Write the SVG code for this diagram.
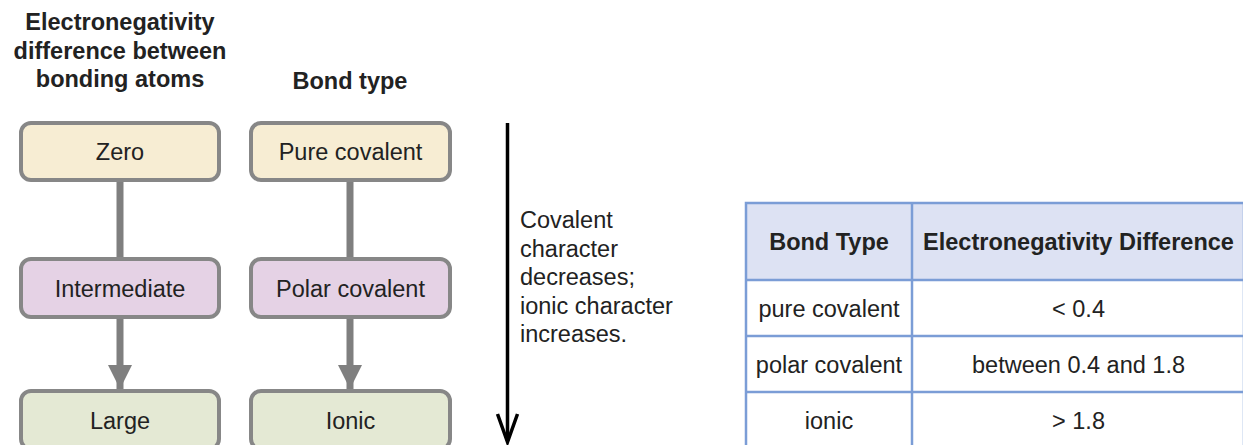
<svg xmlns="http://www.w3.org/2000/svg" width="1243" height="445" viewBox="0 0 1243 445">
<style>
text{font-family:"Liberation Sans",Arial,sans-serif;fill:#222}
.t{font-size:23.5px;font-weight:bold;text-anchor:middle}
.n{font-size:23.5px;text-anchor:middle}
.box{stroke:#878787;stroke-width:4}
.y{fill:#f7edd3}.p{fill:#e5d2e5}.g{fill:#e4e9d4}
.c{stroke:#7f7f7f;stroke-width:7;fill:none}
.tb{stroke:#7b9dd6;stroke-width:2.5;fill:none}
</style>
<defs>
<marker id="ah" markerUnits="userSpaceOnUse" markerWidth="26" markerHeight="24" refX="24" refY="12" orient="auto">
<path d="M0,0 L24,12 L0,24 Z" fill="#7f7f7f"/>
</marker>
</defs>
<g id="titles">
<text class="t" x="120" y="30">Electronegativity</text>
<text class="t" x="120" y="58.5">difference between</text>
<text class="t" x="120" y="87">bonding atoms</text>
<text class="t" x="350" y="89">Bond type</text>
</g>
<g id="connectors">
<line class="c" x1="120" y1="181" x2="120" y2="258"/>
<line class="c" x1="350" y1="181" x2="350" y2="258"/>
<line class="c" x1="120" y1="318" x2="120" y2="389" marker-end="url(#ah)"/>
<line class="c" x1="350" y1="318" x2="350" y2="389" marker-end="url(#ah)"/>
</g>
<g id="zero"><rect class="box y" x="21" y="123" width="198" height="57" rx="10"/><text class="n" x="120" y="160">Zero</text></g>
<g id="pure-covalent"><rect class="box y" x="251" y="123" width="199" height="57" rx="10"/><text class="n" x="350.5" y="160">Pure covalent</text></g>
<g id="intermediate"><rect class="box p" x="21" y="259" width="198" height="58" rx="10"/><text class="n" x="120" y="297">Intermediate</text></g>
<g id="polar-covalent"><rect class="box p" x="251" y="259" width="199" height="58" rx="10"/><text class="n" x="350.5" y="297">Polar covalent</text></g>
<g id="large"><rect class="box g" x="21" y="391" width="198" height="58" rx="10"/><text class="n" x="120" y="429">Large</text></g>
<g id="ionic"><rect class="box g" x="251" y="391" width="199" height="58" rx="10"/><text class="n" x="350.5" y="429">Ionic</text></g>
<g id="trend">
<line x1="507.5" y1="123" x2="507.5" y2="441" stroke="#000" stroke-width="3.5"/>
<path d="M497.5,414 L507.5,442 L517.5,414" fill="none" stroke="#000" stroke-width="3.5"/>
<text x="520" y="228" font-size="23.5">Covalent</text>
<text x="520" y="256.5" font-size="23.5">character</text>
<text x="520" y="285" font-size="23.5">decreases;</text>
<text x="520" y="313.5" font-size="23.5">ionic character</text>
<text x="520" y="342" font-size="23.5">increases.</text>
</g>
<g id="table">
<rect x="746" y="203" width="498" height="77" fill="#dde2f3"/>
<rect class="tb" x="746" y="203" width="498" height="250"/>
<line class="tb" x1="912" y1="203" x2="912" y2="450"/>
<line class="tb" x1="746" y1="280" x2="1244" y2="280"/>
<line class="tb" x1="746" y1="336" x2="1244" y2="336"/>
<line class="tb" x1="746" y1="392" x2="1244" y2="392"/>
<text class="t" x="829" y="250">Bond Type</text>
<text class="t" x="1078.5" y="250">Electronegativity Difference</text>
<text class="n" x="829" y="317">pure covalent</text>
<text class="n" x="1078.5" y="317">&lt; 0.4</text>
<text class="n" x="829" y="373">polar covalent</text>
<text class="n" x="1078.5" y="373">between 0.4 and 1.8</text>
<text class="n" x="829" y="429">ionic</text>
<text class="n" x="1078.5" y="429">&gt; 1.8</text>
</g>
</svg>
